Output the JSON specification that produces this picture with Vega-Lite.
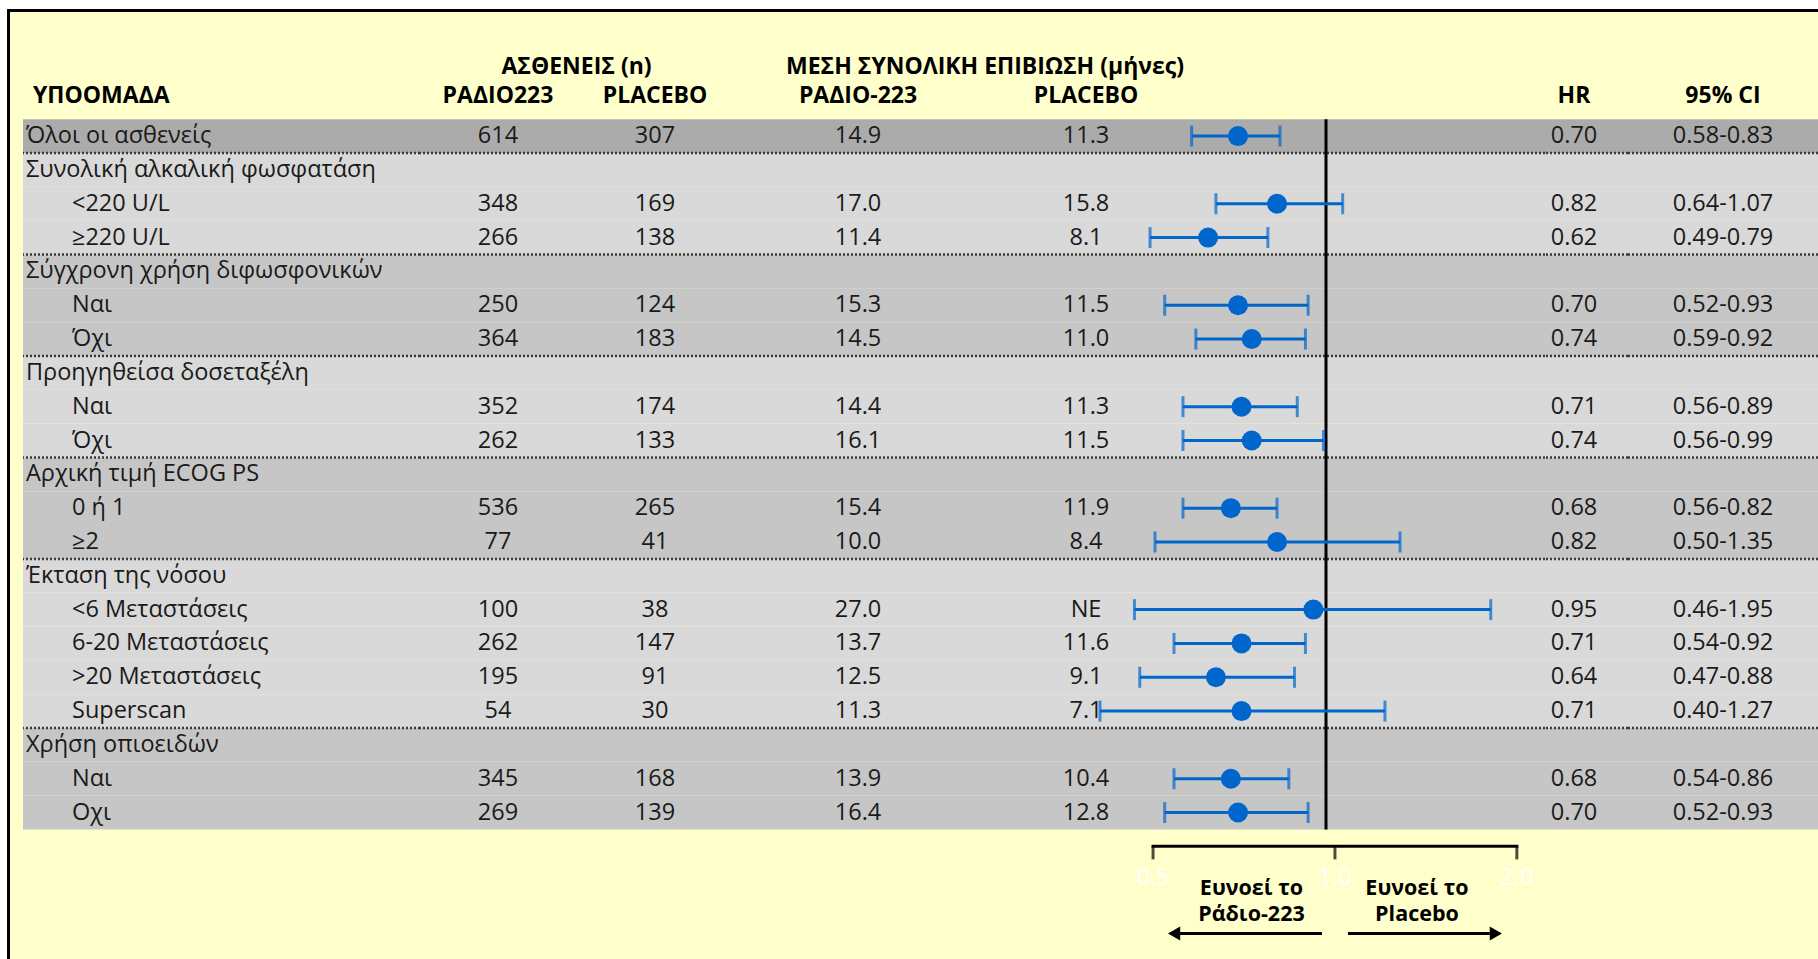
{
  "$schema": "https://vega.github.io/schema/vega-lite/v6.json",
  "background": "white",
  "padding": {"left": 7, "top": 9, "right": 0, "bottom": 0},
  "config": {"view": {"stroke": null}, "font": "Open Sans", "concat": {"spacing": 0}},
  "datasets": {
    "rows": [
      {"id": "all", "grp": "all", "level": "group", "label": "Όλοι οι ασθενείς", "n_r": 614, "n_p": 307, "os_r": "14.9", "os_p": "11.3", "hr": 0.70, "lo": 0.58, "hi": 0.83, "ci": "0.58-0.83"},
      {"id": "alp", "grp": "alp", "level": "group", "label": "Συνολική αλκαλική φωσφατάση"},
      {"id": "alp_lo", "grp": "alp", "level": "item", "label": "<220 U/L", "n_r": 348, "n_p": 169, "os_r": "17.0", "os_p": "15.8", "hr": 0.82, "lo": 0.64, "hi": 1.07, "ci": "0.64-1.07"},
      {"id": "alp_hi", "grp": "alp", "level": "item", "label": "≥220 U/L", "n_r": 266, "n_p": 138, "os_r": "11.4", "os_p": "8.1", "hr": 0.62, "lo": 0.49, "hi": 0.79, "ci": "0.49-0.79"},
      {"id": "bis", "grp": "bis", "level": "group", "label": "Σύγχρονη χρήση διφωσφονικών"},
      {"id": "bis_y", "grp": "bis", "level": "item", "label": "Ναι", "n_r": 250, "n_p": 124, "os_r": "15.3", "os_p": "11.5", "hr": 0.70, "lo": 0.52, "hi": 0.93, "ci": "0.52-0.93"},
      {"id": "bis_n", "grp": "bis", "level": "item", "label": "Όχι", "n_r": 364, "n_p": 183, "os_r": "14.5", "os_p": "11.0", "hr": 0.74, "lo": 0.59, "hi": 0.92, "ci": "0.59-0.92"},
      {"id": "doc", "grp": "doc", "level": "group", "label": "Προηγηθείσα δοσεταξέλη"},
      {"id": "doc_y", "grp": "doc", "level": "item", "label": "Ναι", "n_r": 352, "n_p": 174, "os_r": "14.4", "os_p": "11.3", "hr": 0.71, "lo": 0.56, "hi": 0.89, "ci": "0.56-0.89"},
      {"id": "doc_n", "grp": "doc", "level": "item", "label": "Όχι", "n_r": 262, "n_p": 133, "os_r": "16.1", "os_p": "11.5", "hr": 0.74, "lo": 0.56, "hi": 0.99, "ci": "0.56-0.99"},
      {"id": "ecog", "grp": "ecog", "level": "group", "label": "Αρχική τιμή ECOG PS"},
      {"id": "ecog01", "grp": "ecog", "level": "item", "label": "0 ή 1", "n_r": 536, "n_p": 265, "os_r": "15.4", "os_p": "11.9", "hr": 0.68, "lo": 0.56, "hi": 0.82, "ci": "0.56-0.82"},
      {"id": "ecog2", "grp": "ecog", "level": "item", "label": "≥2", "n_r": 77, "n_p": 41, "os_r": "10.0", "os_p": "8.4", "hr": 0.82, "lo": 0.50, "hi": 1.35, "ci": "0.50-1.35"},
      {"id": "ext", "grp": "ext", "level": "group", "label": "Έκταση της νόσου"},
      {"id": "ext6", "grp": "ext", "level": "item", "label": "<6 Μεταστάσεις", "n_r": 100, "n_p": 38, "os_r": "27.0", "os_p": "NE", "hr": 0.95, "lo": 0.46, "hi": 1.95, "ci": "0.46-1.95"},
      {"id": "ext620", "grp": "ext", "level": "item", "label": "6-20 Μεταστάσεις", "n_r": 262, "n_p": 147, "os_r": "13.7", "os_p": "11.6", "hr": 0.71, "lo": 0.54, "hi": 0.92, "ci": "0.54-0.92"},
      {"id": "ext20", "grp": "ext", "level": "item", "label": ">20 Μεταστάσεις", "n_r": 195, "n_p": 91, "os_r": "12.5", "os_p": "9.1", "hr": 0.64, "lo": 0.47, "hi": 0.88, "ci": "0.47-0.88"},
      {"id": "super", "grp": "ext", "level": "item", "label": "Superscan", "n_r": 54, "n_p": 30, "os_r": "11.3", "os_p": "7.1", "hr": 0.71, "lo": 0.40, "hi": 1.27, "ci": "0.40-1.27"},
      {"id": "opi", "grp": "opi", "level": "group", "label": "Χρήση οπιοειδών"},
      {"id": "opi_y", "grp": "opi", "level": "item", "label": "Ναι", "n_r": 345, "n_p": 168, "os_r": "13.9", "os_p": "10.4", "hr": 0.68, "lo": 0.54, "hi": 0.86, "ci": "0.54-0.86"},
      {"id": "opi_n", "grp": "opi", "level": "item", "label": "Οχι", "n_r": 269, "n_p": 139, "os_r": "16.4", "os_p": "12.8", "hr": 0.70, "lo": 0.52, "hi": 0.93, "ci": "0.52-0.93"}
    ],
    "heads": [
      {"id": "h2", "panel": "label", "level": "group", "text": "ΥΠΟΟΜΑΔΑ"},
      {"id": "h1", "panel": "pat", "text": "ΑΣΘΕΝΕΙΣ (n)"},
      {"id": "h2", "panel": "pat", "key": "n_r", "text": "ΡΑΔΙΟ223"},
      {"id": "h2", "panel": "pat", "key": "n_p", "text": "PLACEBO"},
      {"id": "h1", "panel": "os", "text": "ΜΕΣΗ ΣΥΝΟΛΙΚΗ ΕΠΙΒΙΩΣΗ (μήνες)"},
      {"id": "h2", "panel": "os", "key": "os_r", "text": "ΡΑΔΙΟ-223"},
      {"id": "h2", "panel": "os", "key": "os_p", "text": "PLACEBO"},
      {"id": "h2", "panel": "hr", "text": "HR"},
      {"id": "h2", "panel": "ci", "text": "95% CI"}
    ],
    "ref": [{"id": "all", "to": "opi_n", "v": 1}],
    "brk": [{"id": "b1", "v": 0.5, "v2": 2}],
    "ticks": [{"id": "b1", "v": 0.5}, {"id": "b1", "v": 1}, {"id": "b1", "v": 2}],
    "ticklabels": [{"id": "b2", "v": 0.5, "lab": "0.5"}, {"id": "b2", "v": 1, "lab": "1.0"}, {"id": "b2", "v": 2, "lab": "2.0"}],
    "favor": [
      {"id": "b3", "side": "left", "outer": 0.5, "inner": 1, "text": ["Ευνοεί το", "Ράδιο-223"]},
      {"id": "b3", "side": "right", "outer": 2, "inner": 1, "text": ["Ευνοεί το", "Placebo"]}
    ]
  },
  "spacing": 0,
  "bounds": "flush",
  "vconcat": [
    {"width": 1811, "height": 3, "view": {"fill": "black", "stroke": null}, "data": {"values": [{}]}, "mark": {"type": "rect", "color": "black"}, "encoding": {}},
    {
      "spacing": 0,
      "bounds": "flush",
      "hconcat": [
        {"width": 3, "height": 947, "view": {"fill": "black", "stroke": null}, "data": {"values": [{}]}, "mark": {"type": "rect", "color": "black"}, "encoding": {}},
        {"width": 13, "height": 947, "view": {"fill": "#FFFFCC", "stroke": null}, "data": {"values": [{}]}, "mark": {"type": "rect", "color": "#FFFFCC"}, "encoding": {}},
        {
          "width": 397, "height": 947, "view": {"fill": "#FFFFCC", "stroke": null},
          "encoding": {"y": {"field": "id", "type": "nominal", "sort": null, "axis": null, "scale": {"type": "band", "domain": ["h1","h2","all","alp","alp_lo","alp_hi","bis","bis_y","bis_n","doc","doc_y","doc_n","ecog","ecog01","ecog2","ext","ext6","ext620","ext20","super","opi","opi_y","opi_n","b1","b2","b3"], "paddingInner": 0, "paddingOuter": 1.009, "align": 0.585}}},
          "layer": [
            {"data": {"name": "rows"}, "mark": {"type": "rect"}, "encoding": {"color": {"field": "grp", "type": "nominal", "legend": null, "scale": {"domain": ["all","alp","bis","doc","ecog","ext","opi"], "range": ["#ABABAB","#D9D9D9","#C6C6C6","#D9D9D9","#C6C6C6","#D9D9D9","#C6C6C6"]}}}},
            {"data": {"name": "rows"}, "transform": [{"filter": "!isValid(datum.hr)"}], "mark": {"type": "rule", "strokeDash": [2, 2], "strokeWidth": 2.5, "color": "#3a3a3a", "yOffset": -16.9}, "encoding": {}},
            {"data": {"name": "rows"}, "mark": {"type": "text", "align": "left", "baseline": "middle", "fontSize": 23.5, "color": "#1a1a1a"}, "encoding": {"x": {"field": "level", "type": "nominal", "axis": null, "scale": {"type": "point", "domain": ["group", "item"], "range": [3, 49], "padding": 0}}, "text": {"field": "label"}}},
            {"data": {"name": "heads"}, "transform": [{"filter": "datum.panel=='label'"}], "mark": {"type": "text", "align": "left", "baseline": "middle", "fontSize": 23, "fontWeight": "bold", "color": "black", "dx": 7, "dy": -6}, "encoding": {"x": {"field": "level", "type": "nominal", "axis": null, "scale": {"type": "point", "domain": ["group", "item"], "range": [3, 49], "padding": 0}}, "text": {"field": "text"}}}
          ]
        },
        {
          "width": 313, "height": 947, "view": {"fill": "#FFFFCC", "stroke": null},
          "encoding": {"y": {"field": "id", "type": "nominal", "sort": null, "axis": null, "scale": {"type": "band", "domain": ["h1","h2","all","alp","alp_lo","alp_hi","bis","bis_y","bis_n","doc","doc_y","doc_n","ecog","ecog01","ecog2","ext","ext6","ext620","ext20","super","opi","opi_y","opi_n","b1","b2","b3"], "paddingInner": 0, "paddingOuter": 1.009, "align": 0.585}}},
          "layer": [
            {"data": {"name": "rows"}, "mark": {"type": "rect"}, "encoding": {"color": {"field": "grp", "type": "nominal", "legend": null, "scale": {"domain": ["all","alp","bis","doc","ecog","ext","opi"], "range": ["#ABABAB","#D9D9D9","#C6C6C6","#D9D9D9","#C6C6C6","#D9D9D9","#C6C6C6"]}}}},
            {"data": {"name": "rows"}, "transform": [{"filter": "!isValid(datum.hr)"}], "mark": {"type": "rule", "strokeDash": [2, 2], "strokeWidth": 2.5, "color": "#3a3a3a", "yOffset": -16.9}, "encoding": {}},
            {"data": {"name": "rows"}, "transform": [{"fold": ["n_r", "n_p"], "as": ["key", "value"]}, {"filter": "isValid(datum.value)"}], "mark": {"type": "text", "baseline": "middle", "fontSize": 23.5, "color": "#1a1a1a"}, "encoding": {"x": {"field": "key", "type": "nominal", "axis": null, "scale": {"type": "point", "domain": ["n_r", "n_p"], "range": [78, 235], "padding": 0}}, "text": {"field": "value", "type": "nominal"}}},
            {"data": {"name": "heads"}, "transform": [{"filter": "datum.panel=='pat' && isValid(datum.key)"}], "mark": {"type": "text", "baseline": "middle", "fontSize": 23, "fontWeight": "bold", "color": "black", "dy": -6}, "encoding": {"x": {"field": "key", "type": "nominal", "axis": null, "scale": {"type": "point", "domain": ["n_r", "n_p"], "range": [78, 235], "padding": 0}}, "text": {"field": "text"}}},
            {"data": {"name": "heads"}, "transform": [{"filter": "datum.panel=='pat' && !isValid(datum.key)"}], "mark": {"type": "text", "baseline": "middle", "fontSize": 23, "fontWeight": "bold", "color": "black", "dy": -1}, "encoding": {"text": {"field": "text"}}}
          ]
        },
        {
          "width": 504, "height": 947, "view": {"fill": "#FFFFCC", "stroke": null},
          "encoding": {"y": {"field": "id", "type": "nominal", "sort": null, "axis": null, "scale": {"type": "band", "domain": ["h1","h2","all","alp","alp_lo","alp_hi","bis","bis_y","bis_n","doc","doc_y","doc_n","ecog","ecog01","ecog2","ext","ext6","ext620","ext20","super","opi","opi_y","opi_n","b1","b2","b3"], "paddingInner": 0, "paddingOuter": 1.009, "align": 0.585}}},
          "layer": [
            {"data": {"name": "rows"}, "mark": {"type": "rect"}, "encoding": {"color": {"field": "grp", "type": "nominal", "legend": null, "scale": {"domain": ["all","alp","bis","doc","ecog","ext","opi"], "range": ["#ABABAB","#D9D9D9","#C6C6C6","#D9D9D9","#C6C6C6","#D9D9D9","#C6C6C6"]}}}},
            {"data": {"name": "rows"}, "transform": [{"filter": "!isValid(datum.hr)"}], "mark": {"type": "rule", "strokeDash": [2, 2], "strokeWidth": 2.5, "color": "#3a3a3a", "yOffset": -16.9}, "encoding": {}},
            {"data": {"name": "rows"}, "transform": [{"fold": ["os_r", "os_p"], "as": ["key", "value"]}, {"filter": "isValid(datum.value)"}], "mark": {"type": "text", "baseline": "middle", "fontSize": 23.5, "color": "#1a1a1a"}, "encoding": {"x": {"field": "key", "type": "nominal", "axis": null, "scale": {"type": "point", "domain": ["os_r", "os_p"], "range": [125, 353], "padding": 0}}, "text": {"field": "value", "type": "nominal"}}},
            {"data": {"name": "heads"}, "transform": [{"filter": "datum.panel=='os' && isValid(datum.key)"}], "mark": {"type": "text", "baseline": "middle", "fontSize": 23, "fontWeight": "bold", "color": "black", "dy": -6}, "encoding": {"x": {"field": "key", "type": "nominal", "axis": null, "scale": {"type": "point", "domain": ["os_r", "os_p"], "range": [125, 353], "padding": 0}}, "text": {"field": "text"}}},
            {"data": {"name": "heads"}, "transform": [{"filter": "datum.panel=='os' && !isValid(datum.key)"}], "mark": {"type": "text", "baseline": "middle", "fontSize": 23, "fontWeight": "bold", "color": "black", "dy": -1}, "encoding": {"text": {"field": "text"}}}
          ]
        },
        {
          "width": 308, "height": 947, "view": {"fill": "#FFFFCC", "stroke": null},
          "encoding": {"y": {"field": "id", "type": "nominal", "sort": null, "axis": null, "scale": {"type": "band", "domain": ["h1","h2","all","alp","alp_lo","alp_hi","bis","bis_y","bis_n","doc","doc_y","doc_n","ecog","ecog01","ecog2","ext","ext6","ext620","ext20","super","opi","opi_y","opi_n","b1","b2","b3"], "paddingInner": 0, "paddingOuter": 1.009, "align": 0.585}}},
          "resolve": {"scale": {"x": "independent"}},
          "layer": [
            {"data": {"name": "rows"}, "mark": {"type": "rect"}, "encoding": {"color": {"field": "grp", "type": "nominal", "legend": null, "scale": {"domain": ["all","alp","bis","doc","ecog","ext","opi"], "range": ["#ABABAB","#D9D9D9","#C6C6C6","#D9D9D9","#C6C6C6","#D9D9D9","#C6C6C6"]}}}},
            {"data": {"name": "rows"}, "transform": [{"filter": "!isValid(datum.hr)"}], "mark": {"type": "rule", "strokeDash": [2, 2], "strokeWidth": 2.5, "color": "#3a3a3a", "yOffset": -16.9}, "encoding": {}},
            {
              "layer": [
                {"data": {"name": "ref"}, "mark": {"type": "rule", "color": "black", "strokeWidth": 3, "yOffset": -16.9, "y2Offset": 16.9}, "encoding": {"x": {"field": "v", "type": "quantitative", "axis": null, "scale": {"type": "log", "domain": [0.6971, 2.4296], "nice": false}}, "y2": {"field": "to"}}},
                {"data": {"name": "rows"}, "transform": [{"filter": "isValid(datum.hr)"}], "mark": {"type": "rule", "color": "#0066CC", "strokeWidth": 3}, "encoding": {"x": {"field": "lo", "type": "quantitative", "axis": null, "scale": {"type": "log", "domain": [0.6971, 2.4296], "nice": false}}, "x2": {"field": "hi"}}},
                {"data": {"name": "rows"}, "transform": [{"filter": "isValid(datum.hr)"}], "mark": {"type": "tick", "color": "#0066CC", "thickness": 3, "size": 21, "orient": "vertical"}, "encoding": {"x": {"field": "lo", "type": "quantitative", "axis": null, "scale": {"type": "log", "domain": [0.6971, 2.4296], "nice": false}}}},
                {"data": {"name": "rows"}, "transform": [{"filter": "isValid(datum.hr)"}], "mark": {"type": "tick", "color": "#0066CC", "thickness": 3, "size": 21, "orient": "vertical"}, "encoding": {"x": {"field": "hi", "type": "quantitative", "axis": null, "scale": {"type": "log", "domain": [0.6971, 2.4296], "nice": false}}}},
                {"data": {"name": "rows"}, "transform": [{"filter": "isValid(datum.hr)"}], "mark": {"type": "circle", "color": "#0066CC", "size": 400, "opacity": 1}, "encoding": {"x": {"field": "hr", "type": "quantitative", "axis": null, "scale": {"type": "log", "domain": [0.6971, 2.4296], "nice": false}}}}
              ]
            },
            {
              "layer": [
                {"data": {"name": "brk"}, "mark": {"type": "rule", "color": "black", "strokeWidth": 3, "strokeCap": "square"}, "encoding": {"x": {"field": "v", "type": "quantitative", "axis": null, "scale": {"type": "log", "domain": [0.6885, 2.2265], "nice": false}}, "x2": {"field": "v2"}}},
                {"data": {"name": "ticks"}, "mark": {"type": "tick", "color": "black", "thickness": 3, "size": 13, "yOffset": 6.5, "orient": "vertical"}, "encoding": {"x": {"field": "v", "type": "quantitative", "axis": null, "scale": {"type": "log", "domain": [0.6885, 2.2265], "nice": false}}}},
                {"data": {"name": "ticklabels"}, "mark": {"type": "text", "color": "white", "fontSize": 23.5, "baseline": "middle", "dy": -2}, "encoding": {"x": {"field": "v", "type": "quantitative", "axis": null, "scale": {"type": "log", "domain": [0.6885, 2.2265], "nice": false}}, "text": {"field": "lab"}}},
                {"data": {"name": "favor"}, "transform": [{"filter": "datum.side=='left'"}], "mark": {"type": "rule", "color": "black", "strokeWidth": 3, "xOffset": 27, "x2Offset": -13, "yOffset": 19.5}, "encoding": {"x": {"field": "outer", "type": "quantitative", "axis": null, "scale": {"type": "log", "domain": [0.6885, 2.2265], "nice": false}}, "x2": {"field": "inner"}}},
                {"data": {"name": "favor"}, "transform": [{"filter": "datum.side=='right'"}], "mark": {"type": "rule", "color": "black", "strokeWidth": 3, "xOffset": 13, "x2Offset": -27, "yOffset": 19.5}, "encoding": {"x": {"field": "inner", "type": "quantitative", "axis": null, "scale": {"type": "log", "domain": [0.6885, 2.2265], "nice": false}}, "x2": {"field": "outer"}}},
                {"data": {"name": "favor"}, "transform": [{"filter": "datum.side=='left'"}], "mark": {"type": "point", "shape": "triangle-left", "filled": true, "color": "black", "opacity": 1, "size": 200, "strokeWidth": 0, "xOffset": 21, "yOffset": 19.5}, "encoding": {"x": {"field": "outer", "type": "quantitative", "axis": null, "scale": {"type": "log", "domain": [0.6885, 2.2265], "nice": false}}}},
                {"data": {"name": "favor"}, "transform": [{"filter": "datum.side=='right'"}], "mark": {"type": "point", "shape": "triangle-right", "filled": true, "color": "black", "opacity": 1, "size": 200, "strokeWidth": 0, "xOffset": -21, "yOffset": 19.5}, "encoding": {"x": {"field": "outer", "type": "quantitative", "axis": null, "scale": {"type": "log", "domain": [0.6885, 2.2265], "nice": false}}}},
                {"data": {"name": "favor"}, "transform": [{"filter": "datum.side=='left'"}], "mark": {"type": "text", "fontSize": 21.5, "fontWeight": "bold", "color": "black", "lineHeight": 26, "baseline": "middle", "dx": -83.5, "dy": -25.3}, "encoding": {"x": {"field": "inner", "type": "quantitative", "axis": null, "scale": {"type": "log", "domain": [0.6885, 2.2265], "nice": false}}, "text": {"field": "text"}}},
                {"data": {"name": "favor"}, "transform": [{"filter": "datum.side=='right'"}], "mark": {"type": "text", "fontSize": 21.5, "fontWeight": "bold", "color": "black", "lineHeight": 26, "baseline": "middle", "dx": 82, "dy": -25.3}, "encoding": {"x": {"field": "inner", "type": "quantitative", "axis": null, "scale": {"type": "log", "domain": [0.6885, 2.2265], "nice": false}}, "text": {"field": "text"}}}
              ]
            }
          ]
        },
        {
          "width": 83, "height": 947, "view": {"fill": "#FFFFCC", "stroke": null},
          "encoding": {"y": {"field": "id", "type": "nominal", "sort": null, "axis": null, "scale": {"type": "band", "domain": ["h1","h2","all","alp","alp_lo","alp_hi","bis","bis_y","bis_n","doc","doc_y","doc_n","ecog","ecog01","ecog2","ext","ext6","ext620","ext20","super","opi","opi_y","opi_n","b1","b2","b3"], "paddingInner": 0, "paddingOuter": 1.009, "align": 0.585}}},
          "layer": [
            {"data": {"name": "rows"}, "mark": {"type": "rect"}, "encoding": {"color": {"field": "grp", "type": "nominal", "legend": null, "scale": {"domain": ["all","alp","bis","doc","ecog","ext","opi"], "range": ["#ABABAB","#D9D9D9","#C6C6C6","#D9D9D9","#C6C6C6","#D9D9D9","#C6C6C6"]}}}},
            {"data": {"name": "rows"}, "transform": [{"filter": "!isValid(datum.hr)"}], "mark": {"type": "rule", "strokeDash": [2, 2], "strokeWidth": 2.5, "color": "#3a3a3a", "yOffset": -16.9}, "encoding": {}},
            {"data": {"name": "rows"}, "transform": [{"filter": "isValid(datum.hr)"}], "mark": {"type": "text", "baseline": "middle", "fontSize": 23.5, "color": "#1a1a1a", "dx": -12.5}, "encoding": {"text": {"field": "hr", "type": "quantitative", "format": ".2f"}}},
            {"data": {"name": "heads"}, "transform": [{"filter": "datum.panel=='hr'"}], "mark": {"type": "text", "baseline": "middle", "fontSize": 23, "fontWeight": "bold", "color": "black", "dx": -12.5, "dy": -6}, "encoding": {"text": {"field": "text"}}}
          ]
        },
        {
          "width": 190, "height": 947, "view": {"fill": "#FFFFCC", "stroke": null},
          "encoding": {"y": {"field": "id", "type": "nominal", "sort": null, "axis": null, "scale": {"type": "band", "domain": ["h1","h2","all","alp","alp_lo","alp_hi","bis","bis_y","bis_n","doc","doc_y","doc_n","ecog","ecog01","ecog2","ext","ext6","ext620","ext20","super","opi","opi_y","opi_n","b1","b2","b3"], "paddingInner": 0, "paddingOuter": 1.009, "align": 0.585}}},
          "layer": [
            {"data": {"name": "rows"}, "mark": {"type": "rect"}, "encoding": {"color": {"field": "grp", "type": "nominal", "legend": null, "scale": {"domain": ["all","alp","bis","doc","ecog","ext","opi"], "range": ["#ABABAB","#D9D9D9","#C6C6C6","#D9D9D9","#C6C6C6","#D9D9D9","#C6C6C6"]}}}},
            {"data": {"name": "rows"}, "transform": [{"filter": "!isValid(datum.hr)"}], "mark": {"type": "rule", "strokeDash": [2, 2], "strokeWidth": 2.5, "color": "#3a3a3a", "yOffset": -16.9}, "encoding": {}},
            {"data": {"name": "rows"}, "transform": [{"filter": "isValid(datum.hr)"}], "mark": {"type": "text", "baseline": "middle", "fontSize": 23.5, "color": "#1a1a1a"}, "encoding": {"text": {"field": "ci"}}},
            {"data": {"name": "heads"}, "transform": [{"filter": "datum.panel=='ci'"}], "mark": {"type": "text", "baseline": "middle", "fontSize": 23, "fontWeight": "bold", "color": "black", "dy": -6}, "encoding": {"text": {"field": "text"}}}
          ]
        }
      ]
    }
  ]
}
